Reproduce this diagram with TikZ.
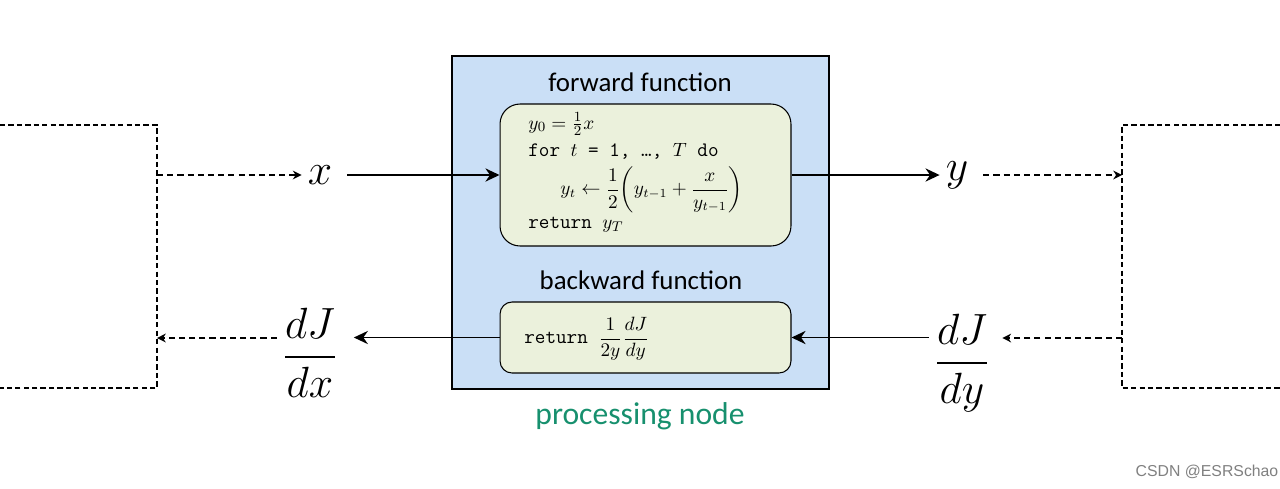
\documentclass[tikz,border=0pt]{standalone}
\usepackage[no-math]{fontspec}
\setmainfont{Carlito}
\newfontfamily\markfont{Liberation Sans}
\usepackage{amsmath}
\usetikzlibrary{arrows.meta,positioning}
\definecolor{procblue}{HTML}{CADFF6}
\definecolor{funcgreen}{HTML}{EBF1DC}
\definecolor{nodeteal}{HTML}{17906E}
\newcommand\kw[1]{{\fontsize{11.7}{13}\selectfont\texttt{#1}}}

\begin{document}
\begin{tikzpicture}[
  x=0.02cm,y=-0.02cm,
  title/.style={font=\fontsize{15.3}{17}\selectfont},
  code/.style={anchor=west,inner sep=0pt,font=\fontsize{11}{13}\selectfont},
  var/.style={font=\fontsize{26}{30}\selectfont},
  funcbox/.style={draw,line width=0.6pt,fill=funcgreen,minimum width=5.82cm},
  arr/.style={-{Stealth[length=8pt,width=7.5pt]},line width=1.1pt},
  darr/.style={-{Stealth[length=5pt,width=5pt]},line width=0.8pt,dash pattern=on 3.5pt off 2.3pt},
  dbox/.style={line width=0.7pt,dash pattern=on 3pt off 1.8pt}
]
\useasboundingbox (0,0) rectangle (1280,488);

% processing node
\node[draw,line width=0.9pt,fill=procblue,minimum width=7.54cm,minimum height=6.66cm] (proc) at (640.5,222.5) {};
\node[title] (ftitle) at (640,82) {forward function};
\node[title] (btitle) at (641,280) {backward function};
\node[font=\fontsize{18}{20}\selectfont,text=nodeteal] (ptitle) at (640,416) {processing node};

% forward function
\node[funcbox,minimum height=2.84cm,rounded corners=0.4cm] (fwd) at (645.5,175) {};
\node[code] (l1) at (528,124) {$y_0 = \tfrac{1}{2}x$};
\node[code] (l2) at (528,151) {\kw{for }$t$\kw{ = 1, …, }$T$\kw{ do}};
\node[code,font=\fontsize{10.5}{13}\selectfont] (l3) at (560,190) {$y_t \leftarrow \dfrac{1}{2}\!\left(y_{t-1} + \dfrac{x}{y_{t-1}}\right)$};
\node[code] (l4) at (528,225) {\kw{return }$y_T$};

% backward function
\node[funcbox,minimum height=1.42cm,rounded corners=0.24cm] (bwd) at (645.5,337.5) {};
\node[code] (b1) at (524,339) {\kw{return }$\dfrac{1}{2y}\dfrac{dJ}{dy}$};

% neighbouring nodes
\draw[dbox] (0,125) -- (157,125) -- (157,388) -- (0,388);
\draw[dbox] (1280,125) -- (1122,125) -- (1122,388) -- (1280,388);
\coordinate (lout) at (157,175);
\coordinate (lin) at (157,338);
\coordinate (rin) at (1122,175);
\coordinate (rout) at (1122,338);

% variables
\node[var] (x) at (320,175) {$x$};
\node[var] (y) at (957,175) {$y$};
\node[var] (dJdx) at (310,353) {$\dfrac{dJ}{dx}$};
\node[var] (dJdy) at (962,363) {$\dfrac{dJ}{dy}$};

\draw[darr] (lout) -- (x);
\draw[arr,shorten <=5pt] (x) -- (fwd);
\draw[arr] (fwd) -- (y);
\draw[darr,shorten <=5pt] (y) -- (rin);
\draw[darr,shorten >=4pt] (rout) -- (rout -| dJdy.east);
\draw[arr] (bwd.east -| dJdy.west) -- (bwd);
\draw[arr,shorten >=6pt] (bwd) -- (bwd.west -| dJdx.east);
\draw[darr] (dJdx.west |- lin) -- (lin);

\node[font=\markfont\fontsize{9}{11}\selectfont,text=gray] (mark) at (1207,472) {CSDN @ESRSchao};
\end{tikzpicture}
\end{document}
